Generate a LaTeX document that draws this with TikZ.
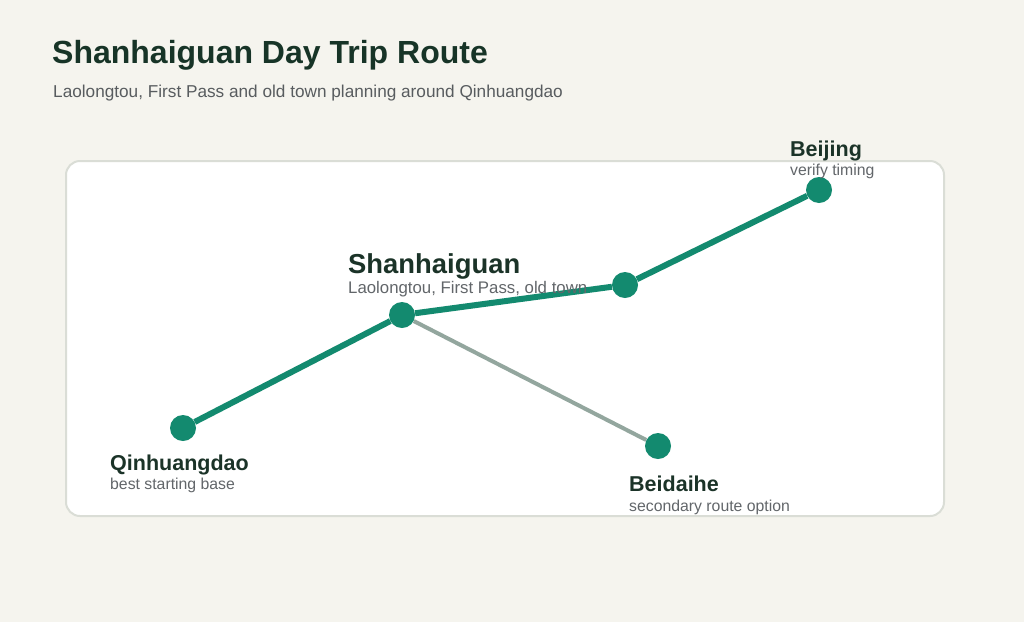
\documentclass[tikz,border=0pt]{standalone}
\usepackage{fontspec}
\setmainfont{Liberation Sans}
\usepackage{tikz}
\definecolor{paper}{HTML}{F5F4EE}
\definecolor{panelline}{HTML}{DADDD6}
\definecolor{route}{HTML}{138A6F}
\definecolor{sideroute}{HTML}{93A69E}
\definecolor{headink}{HTML}{173427}
\definecolor{placeink}{HTML}{1B3328}
\definecolor{noteink}{HTML}{62666A}
\begin{document}
\begin{tikzpicture}[x=1pt,y=1pt]
\tikzstyle{every node}+=[inner sep=0pt]
\tikzstyle{stopdot}=[circle, fill=route, minimum size=26pt]
\tikzstyle{placename}=[anchor=base west, text=placeink, font=\bfseries\fontsize{21.5}{24}\selectfont]
\tikzstyle{placenote}=[anchor=base west, text=noteink, font=\fontsize{15.8}{18}\selectfont]
% page and panel
\fill [paper] (0,0) rectangle (1024,-622);
\draw [panelline, line width=2, fill=white, rounded corners=14] (66,-161) rectangle (944,-516);
% heading
\node [anchor=base west, text=headink, font=\bfseries\fontsize{32}{36}\selectfont] (title) at (52,-63) {Shanhaiguan Day Trip Route};
\node [anchor=base west, text=noteink!90!black, font=\fontsize{17.2}{20}\selectfont] (subtitle) at (53,-97) {Laolongtou, First Pass and old town planning around Qinhuangdao};
% stops
\node [stopdot] (qin) at (183,-428) {};
\node [stopdot] (shg) at (402,-315) {};
\node [stopdot] (pass) at (625,-285) {};
\node [stopdot] (bj) at (819,-190) {};
\node [stopdot] (bdh) at (658,-446) {};
% connectors
\draw [sideroute, line width=4] (shg) -- (bdh);
\draw [route, line width=6] (qin) -- (shg);
\draw [route, line width=6] (shg) -- (pass);
\draw [route, line width=6] (pass) -- (bj);
% labels
\node [placename, font=\bfseries\fontsize{27.4}{30}\selectfont] (shgname) at (348,-273) {Shanhaiguan};
\node [placenote, font=\fontsize{16.8}{19}\selectfont] (shgnote) at (348,-293) {Laolongtou, First Pass, old town};
\node [placename] (bjname) at (790,-156) {Beijing};
\node [placenote] (bjnote) at (790,-175) {verify timing};
\node [placename] (qinname) at (110,-470) {Qinhuangdao};
\node [placenote] (qinnote) at (110,-489) {best starting base};
\node [placename] (bdhname) at (629,-491) {Beidaihe};
\node [placenote] (bdhnote) at (629,-511) {secondary route option};
\end{tikzpicture}
\end{document}
